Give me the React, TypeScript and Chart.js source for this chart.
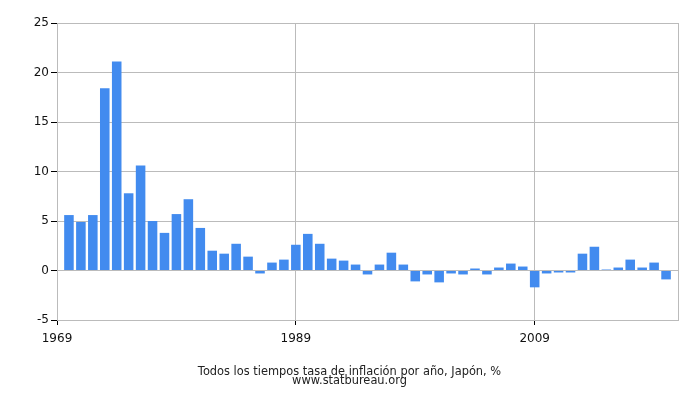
import { useEffect, useRef } from "react";
import { Chart, registerables } from "chart.js";

Chart.register(...registerables);

// 年ごとのインフレ率（日本, %）
const YEARS = [
  1970, 1971, 1972, 1973, 1974, 1975, 1976, 1977, 1978, 1979,
  1980, 1981, 1982, 1983, 1984, 1985, 1986, 1987, 1988, 1989,
  1990, 1991, 1992, 1993, 1994, 1995, 1996, 1997, 1998, 1999,
  2000, 2001, 2002, 2003, 2004, 2005, 2006, 2007, 2008, 2009,
  2010, 2011, 2012, 2013, 2014, 2015, 2016, 2017, 2018, 2019,
  2020,
];
const INFLATION = [
  5.6, 4.9, 5.6, 18.4, 21.1, 7.8, 10.6, 5.0, 3.8, 5.7,
  7.2, 4.3, 2.0, 1.7, 2.7, 1.4, -0.3, 0.8, 1.1, 2.6,
  3.7, 2.7, 1.2, 1.0, 0.6, -0.4, 0.6, 1.8, 0.6, -1.1,
  -0.4, -1.2, -0.3, -0.4, 0.2, -0.4, 0.3, 0.7, 0.4, -1.7,
  -0.3, -0.2, -0.2, 1.7, 2.4, 0.1, 0.3, 1.1, 0.3, 0.8,
  -0.9,
];
const X_TICKS = [1969, 1989, 2009];
const X_MIN = 1969;
const X_MAX = 2021;
const Y_MIN = -5;
const Y_MAX = 25;
const TITLE_LINES = [
  "Todos los tiempos tasa de inflación por año, Japón, %",
  "www.statbureau.org",
];

const FONT = "'DejaVu Sans', sans-serif";
const GRID = "#bbbbbb";

// 右側の枠線とキャプション
const framePlugin = {
  id: "frameAndCaption",
  afterDraw(chart: Chart) {
    const { ctx, chartArea } = chart;
    ctx.save();
    ctx.strokeStyle = GRID;
    ctx.lineWidth = 1;
    const rx = Math.round(chartArea.right) + 0.5;
    ctx.beginPath();
    ctx.moveTo(rx, Math.round(chartArea.top));
    ctx.lineTo(rx, Math.round(chartArea.bottom) + 1);
    ctx.stroke();

    ctx.fillStyle = "#222";
    ctx.font = "11.4px " + FONT;
    ctx.textAlign = "center";
    ctx.textBaseline = "alphabetic";
    ctx.fillText(TITLE_LINES[0], 349.5, 374.7);
    ctx.fillText(TITLE_LINES[1], 349.5, 384.3);
    ctx.restore();
  },
};

export default function App() {
  const ref = useRef<HTMLCanvasElement>(null);

  useEffect(() => {
    if (!ref.current) return;
    const chart = new Chart(ref.current, {
      type: "bar",
      data: {
        datasets: [
          {
            label: "Inflación",
            data: YEARS.map((y, i) => ({ x: y, y: INFLATION[i] })),
            backgroundColor: "#428bef",
            borderWidth: 0,
            categoryPercentage: 0.8,
            barPercentage: 1,
          },
        ],
      },
      options: {
        responsive: false,
        animation: false,
        devicePixelRatio: 1,
        layout: { padding: { top: 23, right: 22, left: 0, bottom: 0 } },
        plugins: {
          legend: { display: false },
          tooltip: { enabled: false },
          title: { display: false },
        },
        scales: {
          x: {
            type: "linear",
            min: X_MIN,
            max: X_MAX,
            offset: false,
            grid: {
              offset: false,
              color: GRID,
              tickColor: "#000",
              tickLength: 5,
            },
            border: { color: GRID },
            afterBuildTicks: (scale: any) => {
              scale.ticks = X_TICKS.map((v) => ({ value: v }));
            },
            afterFit: (scale: any) => {
              scale.height = 80;
            },
            ticks: {
              color: "#111",
              font: { family: FONT, size: 12 },
              padding: 7,
              maxRotation: 0,
              autoSkip: false,
              callback: (v: number | string) => String(v),
            },
          },
          y: {
            min: Y_MIN,
            max: Y_MAX,
            grid: {
              color: GRID,
              tickColor: "#000",
              tickLength: 6,
            },
            border: { color: GRID },
            afterFit: (scale: any) => {
              scale.width = 57;
            },
            ticks: {
              stepSize: 5,
              color: "#111",
              font: { family: FONT, size: 12 },
              padding: 2,
            },
          },
        },
      },
      plugins: [framePlugin],
    });
    return () => chart.destroy();
  }, []);

  return (
    <div style={{ position: "absolute", left: 0, top: 0, width: 700, height: 400 }}>
      <canvas ref={ref} width={700} height={400} style={{ display: "block" }} />
    </div>
  );
}
